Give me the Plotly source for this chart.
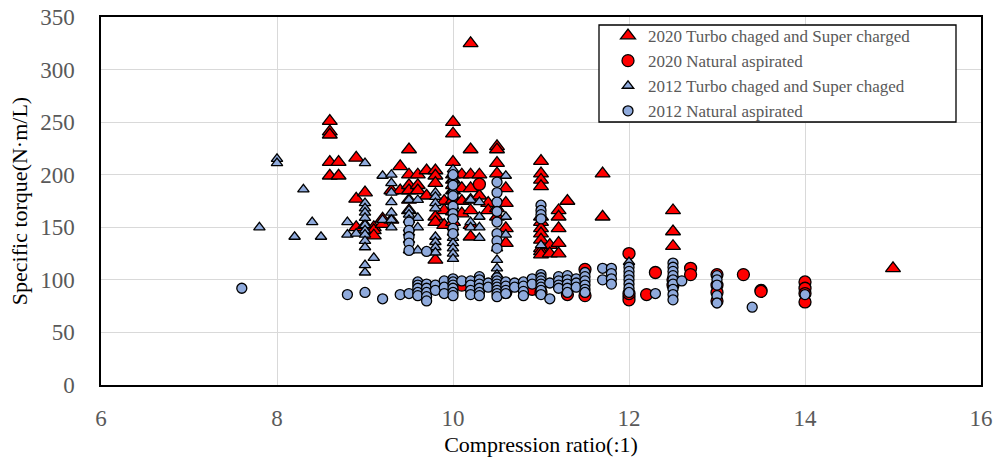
import plotly.graph_objects as go

# ---- data: (compression ratio, [specific torque values]) per series ----
tc2020_cols = [
    (8.6, [251, 241, 238, 212, 199]),
    (8.7, [212, 199]),
    (8.9, [216, 177, 150]),
    (9.0, [183, 152]),
    (9.1, [150, 147, 142]),
    (9.2, [153, 158]),
    (9.3, [157, 185]),
    (9.4, [208, 185]),
    (9.5, [224, 200, 190, 185, 176, 166]),
    (9.6, [200, 190, 185]),
    (9.7, [204, 180]),
    (9.8, [204, 199, 192, 160, 155, 119]),
    (9.9, [175, 166, 152]),
    (10.0, [250, 239, 212, 200, 195, 190, 185, 176, 165, 155]),
    (10.1, [200, 187, 175, 163]),
    (10.2, [325, 224, 200, 187, 176, 166, 152, 141]),
    (10.3, [200, 180]),
    (10.4, [173, 166]),
    (10.5, [227, 224, 211, 201, 168, 160]),
    (10.6, [187, 173, 149, 135]),
    (11.0, [213, 201, 195, 189, 160, 155, 149, 144, 138, 130, 127, 124]),
    (11.1, [133, 125]),
    (11.2, [166, 160, 149, 135, 125]),
    (11.3, [175]),
    (11.7, [201, 160]),
    (12.5, [166, 146, 132]),
    (15.0, [111]),
]

na2020_cols = [
    (10.1, [95]),
    (10.3, [191, 92]),
    (10.6, [88]),
    (10.9, [91]),
    (11.0, [88]),
    (11.3, [86]),
    (11.5, [110, 85]),
    (12.0, [125, 84, 81, 87]),
    (12.2, [86]),
    (12.3, [107]),
    (12.5, [100, 95]),
    (12.7, [111, 105]),
    (13.0, [105, 95, 88, 80]),
    (13.3, [105]),
    (13.5, [90, 89]),
    (14.0, [98, 92, 87, 79]),
]

tc2012_cols = [
    (7.8, [150]),
    (8.0, [215, 211]),
    (8.2, [141]),
    (8.3, [186]),
    (8.4, [155]),
    (8.5, [141]),
    (8.8, [155, 143]),
    (8.9, [144]),
    (9.0, [211, 173, 168, 164, 159, 152, 147, 143, 137, 131, 114, 107]),
    (9.1, [121]),
    (9.2, [199, 157]),
    (9.3, [200, 192, 183, 174, 164, 157, 150]),
    (9.5, [176, 166, 162, 157, 149, 145, 138, 128]),
    (9.6, [176, 159, 150, 128]),
    (9.8, [183, 179, 173, 168, 141, 136, 131, 126]),
    (10.0, [205, 200, 195, 185, 180, 170, 160, 150, 145, 140, 135, 130, 125, 120]),
    (10.2, [176, 155, 150]),
    (10.3, [174, 160, 150, 140]),
    (10.5, [130, 119, 111, 105]),
    (10.6, [199, 160, 143]),
    (11.0, [133]),
    (12.0, [117]),
]

na2012_cols = [
    (7.6, [92]),
    (8.8, [86]),
    (9.0, [88]),
    (9.2, [82]),
    (9.4, [86]),
    (9.5, [155, 147, 141, 135, 128, 87]),
    (9.6, [98, 95, 92, 88, 85]),
    (9.7, [127, 96, 92, 88, 84, 80]),
    (9.8, [95, 90]),
    (9.9, [99, 93, 87]),
    (10.0, [200, 190, 180, 170, 163, 158, 149, 144, 101, 98, 95, 92, 88, 85]),
    (10.1, [99]),
    (10.2, [99, 95, 90, 86]),
    (10.3, [103, 100, 96, 92, 88, 85]),
    (10.4, [97, 93]),
    (10.5, [193, 183, 174, 165, 155, 144, 137, 130, 102, 99, 96, 93, 90, 87, 84]),
    (10.6, [98, 94, 90, 87]),
    (10.7, [97, 93]),
    (10.8, [98, 94, 89, 85]),
    (10.9, [101, 96]),
    (11.0, [171, 166, 162, 158, 105, 102, 99, 96, 93, 90, 86]),
    (11.1, [97, 82]),
    (11.2, [103, 99, 95, 92]),
    (11.3, [104, 100, 96, 92, 88]),
    (11.4, [101, 97, 93]),
    (11.5, [107, 103, 99, 95, 91, 88]),
    (11.7, [111, 100]),
    (11.8, [111, 106, 101, 96]),
    (12.0, [112, 108, 104, 100, 96, 92, 88]),
    (12.3, [87]),
    (12.5, [116, 112, 108, 104, 100, 96, 91, 86, 81]),
    (12.6, [99]),
    (13.0, [104, 100, 95, 85, 78]),
    (13.4, [74]),
    (14.0, [86]),
]

series_names = [
    "2020 Turbo chaged and Super charged",
    "2020 Natural aspirated",
    "2012 Turbo chaged and Super chaged",
    "2012 Natural aspirated",
]

x_ticks = [6, 8, 10, 12, 14, 16]
y_ticks = [0, 50, 100, 150, 200, 250, 300, 350]


def flatten(cols):
    xs, ys = [], []
    for x, vals in cols:
        for v in vals:
            xs.append(x)
            ys.append(v)
    return xs, ys


RED = "#ff0000"
BLUE = "#8faadc"
FONT = "Liberation Serif"
W, H = 997, 461

styles = [
    (tc2020_cols, "triangle-up", RED, 13),
    (na2020_cols, "circle", RED, 12),
    (tc2012_cols, "triangle-up", BLUE, 10),
    (na2012_cols, "circle", BLUE, 10),
]

fig = go.Figure()
for name, (cols, sym, col, size) in zip(series_names, styles):
    xs, ys = flatten(cols)
    fig.add_trace(go.Scatter(
        x=xs, y=ys, mode="markers", name=name,
        marker=dict(symbol=sym, color=col, size=size,
                    line=dict(color="black", width=1.3)),
    ))

# plot area in page pixels: x 101..981, y 17..385
PL, PR, PT, PB = 101, 981, 17, 385
PW, PH = PR - PL, PB - PT

# legend frame (white box with black border)
fig.add_shape(
    type="rect", xref="paper", yref="paper", layer="above",
    x0=(599 - PL) / PW, x1=(956 - PL) / PW,
    y0=(PB - 122) / PH, y1=(PB - 25) / PH,
    line=dict(color="black", width=1.3), fillcolor="white",
)

fig.update_layout(
    width=W, height=H,
    margin=dict(l=PL, r=W - PR, t=PT, b=H - PB, autoexpand=False),
    paper_bgcolor="white", plot_bgcolor="white",
    font=dict(family=FONT, color="#595959"),
    legend=dict(
        x=(608 - PL) / PW, y=(PB - 18) / PH, xanchor="left", yanchor="top",
        borderwidth=0, bgcolor="rgba(0,0,0,0)",
        font=dict(family=FONT, size=17, color="#595959"),
        itemwidth=30, tracegroupgap=0,
    ),
    showlegend=True,
)
fig.update_xaxes(
    range=[6, 16], tickvals=x_ticks, automargin=False,
    showgrid=True, gridcolor="#d9d9d9", gridwidth=1,
    showline=True, linecolor="black", linewidth=1.5, mirror=True,
    zeroline=False, ticks="", ticklabeloverflow="allow",
    tickfont=dict(family=FONT, size=23, color="#595959"),
    ticklabelstandoff=12,
    title=dict(text="Compression ratio(:1)", font=dict(family=FONT, size=22, color="black"), standoff=6),
)
fig.update_yaxes(
    range=[0, 350], tickvals=y_ticks, automargin=False,
    showgrid=True, gridcolor="#d9d9d9", gridwidth=1,
    showline=True, linecolor="black", linewidth=1.5, mirror=True,
    zeroline=False, ticks="", ticklabeloverflow="allow",
    tickfont=dict(family=FONT, size=23, color="#595959"),
    ticklabelstandoff=20,
    title=dict(text="Specific torque(N·m/L)", font=dict(family=FONT, size=22, color="black"), standoff=6),
)

# remove the default 8px page margin so the figure fills the window exactly
fig.write_html(
    "out.html",
    config={"displayModeBar": False},
    post_script="document.body.style.margin='0';document.body.style.overflow='hidden';",
)
